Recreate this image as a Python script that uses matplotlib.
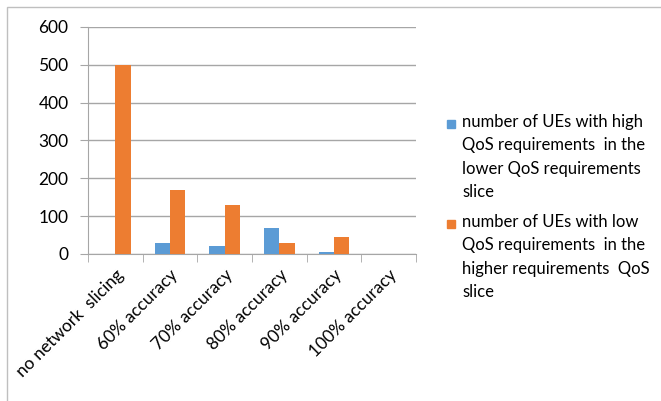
import numpy as np
import matplotlib
matplotlib.use("Agg")
import matplotlib.pyplot as plt
from matplotlib.patches import Rectangle

plt.rcParams['font.family'] = ['Lato', 'DejaVu Sans']

categories = ['no network  slicing', '60% accuracy', '70% accuracy',
              '80% accuracy', '90% accuracy', '100% accuracy']
high_qos_in_low_slice = [0, 30, 20, 70, 5, 0]
low_qos_in_high_slice = [500, 170, 130, 30, 45, 0]
series_labels = [
    'number of UEs with high\nQoS requirements  in the\nlower QoS requirements\nslice',
    'number of UEs with low\nQoS requirements  in the\nhigher requirements  QoS\nslice',
]
colors = ['#5B9BD5', '#ED7D31']
yticks = [0, 100, 200, 300, 400, 500, 600]

fig = plt.figure(figsize=(6.61, 4.01), dpi=100)
ax = fig.add_axes([88 / 661, 1 - 254 / 401, 328 / 661, 227 / 401])

x = np.arange(len(categories))
w = 0.28
ax.bar(x - w / 2, high_qos_in_low_slice, w, color=colors[0], zorder=3)
ax.bar(x + w / 2, low_qos_in_high_slice, w, color=colors[1], zorder=3)

ax.set_xlim(-0.5, len(categories) - 0.5)
ax.set_ylim(0, 600)
ax.set_yticks(yticks)
ax.yaxis.grid(True, color='#a6a6a6', lw=1)
ax.set_axisbelow(True)
for s in ['top', 'right']:
    ax.spines[s].set_visible(False)
for s in ['left', 'bottom']:
    ax.spines[s].set_color('#a6a6a6')
ax.tick_params(axis='y', length=6, color='#a6a6a6', labelsize=12.5, pad=8)

# category boundary ticks on the x axis
ax.set_xticks(np.arange(-0.5, len(categories)), minor=True)
ax.tick_params(axis='x', which='minor', length=6, color='#a6a6a6')
ax.set_xticks(x)
ax.set_xticklabels(categories, rotation=45, ha='right', rotation_mode='anchor', fontsize=12.5)
ax.tick_params(axis='x', which='major', length=0, pad=9)

# legend drawn by hand so the square sits on the first line
legend_tops = [114, 214]
for lab, col, top in zip(series_labels, colors, legend_tops):
    fig.text(462 / 661, 1 - top / 401, lab, fontsize=12, va='top', ha='left', linespacing=1.57)
    fig.patches.append(Rectangle((447 / 661, 1 - (top + 14) / 401), 8 / 661, 8 / 401,
                                 transform=fig.transFigure, color=col))

# outer chart border (only top and left show in the crop)
fig.patches.append(Rectangle((7 / 661, -0.1), 1.2, 1.1 - 7 / 401, transform=fig.transFigure,
                             fill=False, ec='#bfbfbf', lw=1))

fig.savefig('out.png', dpi=100)
